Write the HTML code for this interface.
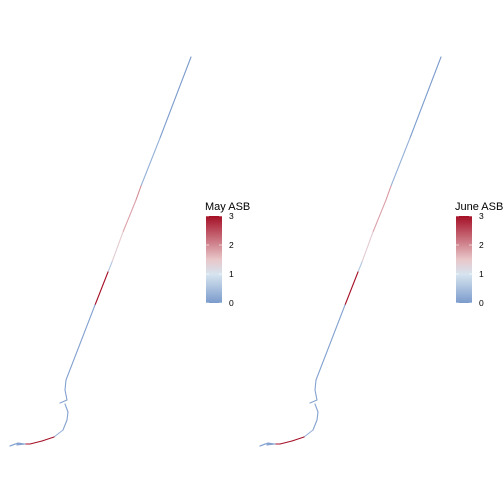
<!DOCTYPE html>
<html><head><meta charset="utf-8"><style>
body{margin:0;background:#fff}
svg{display:block;font-family:"Liberation Sans",sans-serif}
</style></head><body>
<svg id="c" width="504" height="504" viewBox="0 0 504 504">
<defs><linearGradient id="g" x1="0" y1="1" x2="0" y2="0">
<stop offset="0" stop-color="#7b9bcc"/><stop offset="0.33" stop-color="#d6e4ef"/><stop offset="0.5" stop-color="#e8c6c9"/><stop offset="1" stop-color="#a50f26"/></linearGradient></defs>
</svg>
<script>
// path points (x,y offsets in panel) and ASB values per segment
const px=[191,160,141,136,123,112,108,97,95,66,65,67,60];
const py=[57,138,186,200,232,262,272,300,305,380,390,400,403];
const mayVals=[0,0.3,2,1.8,1.4,0.6,3,3,0.1,0.1,0.1,0.1];
const junVals=[0,0.3,1.9,1.8,1.4,0.6,3,3,0.1,0.1,0.1,0.1];
const px2=[65,68,67,63,54,42,30,20,15,10,18,25,17];
const py2=[404,412,420,430,437,441,444,444,444,446,443,444,445];
const mayVals2=[0.1,0.1,0.1,0.3,3,3,3,0.2,0.1,0.1,0.1,0.1];
const junVals2=[0.1,0.1,0.1,0.3,3,3,3,0.2,0.1,0.1,0.1,0.1];
const ticks=[0,1,2,3];
const panels=[{dx:0,title:"May ASB",v:mayVals,v2:mayVals2},{dx:250,title:"June ASB",v:junVals,v2:junVals2}];
const svg=document.getElementById('c');const NS='http://www.w3.org/2000/svg';
function lerp(a,b,t){return a.map((x,i)=>Math.round(x+(b[i]-x)*t));}
function col(v){const s=[[123,155,204],[214,228,239],[232,198,201],[165,15,38]];const p=[0,1,1.5,3];
for(let i=0;i<3;i++)if(v<=p[i+1])return 'rgb('+lerp(s[i],s[i+1],(v-p[i])/(p[i+1]-p[i])).join(',')+')';return 'rgb(165,15,38)';}
const yS=v=>303-v*(87/3);
panels.forEach((p,k)=>{
 [[px,py,p.v],[px2,py2,p.v2]].forEach(([X,Y,V])=>{
  for(let i=0;i<V.length;i++){const l=document.createElementNS(NS,'line');
  l.setAttribute('x1',X[i]+p.dx);l.setAttribute('y1',Y[i]);l.setAttribute('x2',X[i+1]+p.dx);l.setAttribute('y2',Y[i+1]);
  l.setAttribute('stroke',col(V[i]));l.setAttribute('stroke-width',1.1);l.setAttribute('stroke-linecap','round');
  
  
  svg.appendChild(l);}
 });
 const lx=206+p.dx;
 const t=document.createElementNS(NS,'text');t.setAttribute('x',lx-1);t.setAttribute('y',210);t.setAttribute('font-size',11);t.textContent=p.title;
 
 
 svg.appendChild(t);
 const r=document.createElementNS(NS,'rect');r.setAttribute('x',lx);r.setAttribute('y',yS(3));r.setAttribute('width',16);r.setAttribute('height',87);r.setAttribute('fill','url(#g)');
 
 
 svg.appendChild(r);
 ticks.forEach(v=>{const tt=document.createElementNS(NS,'text');tt.setAttribute('x',lx+23);tt.setAttribute('y',yS(v)+3);tt.setAttribute('font-size',8.5);tt.textContent=v;
 
 
 svg.appendChild(tt);
 [lx,lx+13].forEach(x=>{const m=document.createElementNS(NS,'line');m.setAttribute('x1',x);m.setAttribute('x2',x+3);m.setAttribute('y1',yS(v));m.setAttribute('y2',yS(v));m.setAttribute('stroke','#fff');m.setAttribute('stroke-width',0.6);
 
 
 svg.appendChild(m);});});
});
</script>
</body></html>
